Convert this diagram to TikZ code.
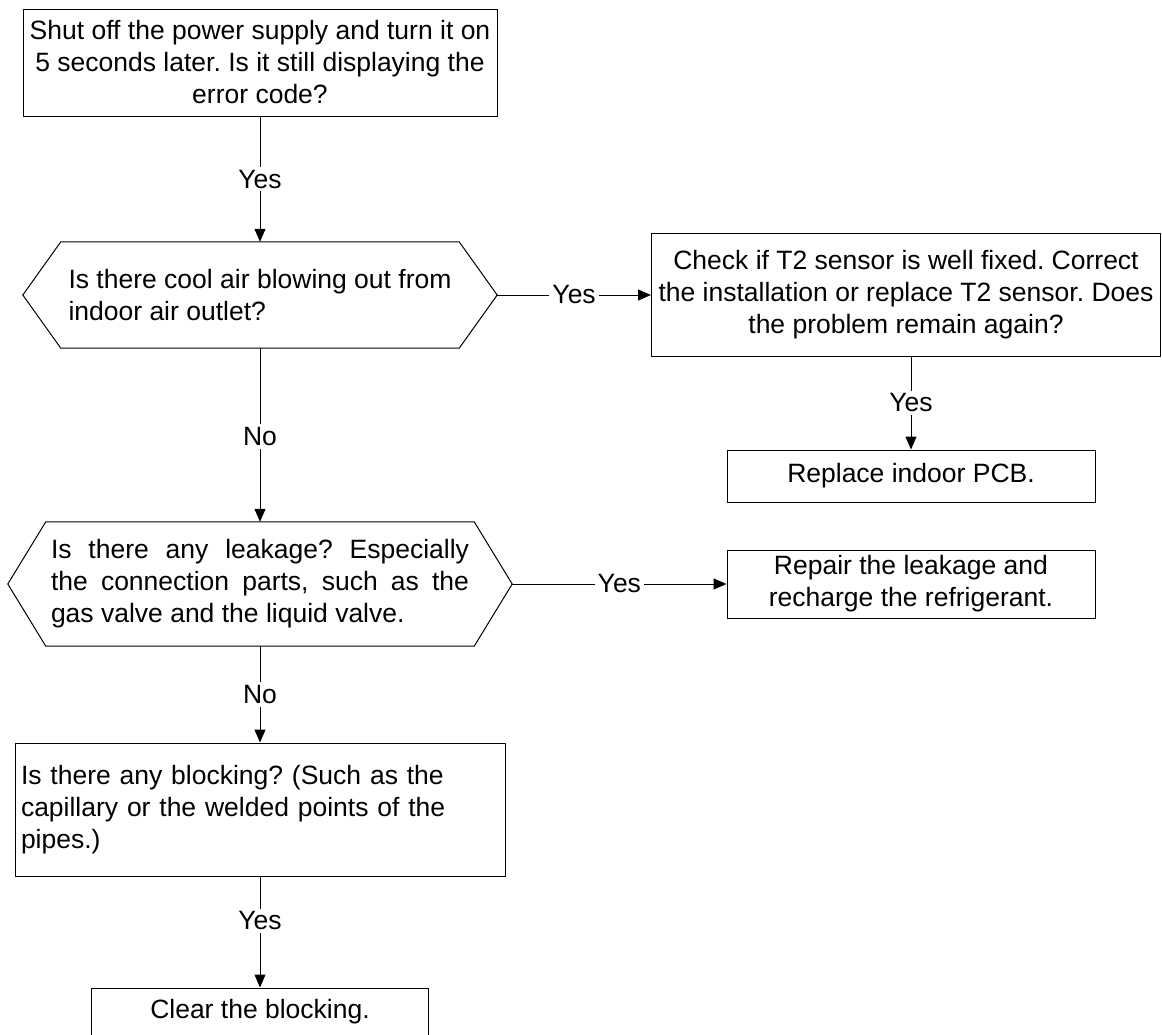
\documentclass[tikz,border=0pt]{standalone}
\usepackage{fontspec}
\setmainfont{Liberation Sans}
\usetikzlibrary{arrows.meta}
\frenchspacing
\begin{document}
\begin{tikzpicture}[x=1pt,y=-1pt,
  every node/.style={font=\fontsize{26.5}{32}\selectfont\frenchspacing},
  box/.style={draw, line width=1pt, inner sep=0pt, align=center},
  hexa/.style={inner sep=0pt, align=left},
  lab/.style={fill=white, inner sep=3pt},
  conn/.style={line width=1pt},
  arr/.style={line width=1pt, -{Triangle[length=13pt,width=11pt]}}]
\useasboundingbox (0,0) rectangle (1162,1034);
\fill[white] (0,0) rectangle (1162,1034);

% boxes
\node[box, minimum width=474pt, minimum height=107pt] (b1) at (260,62.5)
  {Shut off the power supply and turn it on\\5 seconds later. Is it still displaying the\\error code?};
\node[box, minimum width=509pt, minimum height=123pt] (b2) at (906,294.5)
  {Check if T2 sensor is well fixed. Correct\\the installation or replace T2 sensor. Does\\the problem remain again?};
\node[box, minimum width=368pt, minimum height=52pt] (b3) at (911,476) {Replace indoor PCB.};
\node[box, minimum width=368pt, minimum height=68pt] (b4) at (911,584)
  {Repair the leakage and\\recharge the refrigerant.};
\node[box, minimum width=490pt, minimum height=133pt, text width=478pt, align=left] (b5) at (260,809.5)
  {Is there any blocking? (Such as the\\capillary or the welded points of the\\pipes.)};
\node[box, minimum width=337pt, minimum height=48pt] (b6) at (260,1012) {Clear the blocking.};

% hexagons
\node[hexa, minimum width=474pt, minimum height=106pt] (h1) at (260,295)
  {Is there cool air blowing out from\\indoor air outlet?};
\draw[conn] (h1.west) -- ([xshift=38pt]h1.north west) -- ([xshift=-38pt]h1.north east)
  -- (h1.east) -- ([xshift=-38pt]h1.south east) -- ([xshift=38pt]h1.south west) -- cycle;
\node[hexa, minimum width=504pt, minimum height=124pt] (h2) at (260,584)
  {\makebox[418pt][s]{Is there any leakage? Especially}\\
   \makebox[418pt][s]{the connection parts, such as the}\\
   gas valve and the liquid valve.};
\draw[conn] (h2.west) -- ([xshift=38pt]h2.north west) -- ([xshift=-38pt]h2.north east)
  -- (h2.east) -- ([xshift=-38pt]h2.south east) -- ([xshift=38pt]h2.south west) -- cycle;

% connectors
\draw[arr] (b1) -- node[lab]{Yes} (h1);
\draw[arr] (h1.east) -- node[lab]{Yes} (b2.west |- h1.east);
\draw[arr] (b3.north |- b2.south) -- node[lab]{Yes} (b3.north);
\draw[arr] (h1.south) -- node[lab, pos=0.51]{No} (h2.north);
\draw[arr] (h2.east) -- node[lab]{Yes} (b4.west |- h2.east);
\draw[arr] (h2.south) -- node[lab]{No} (b5.north);
\draw[arr] (b5.south) -- node[lab, pos=0.4]{Yes} (b6.north);
\end{tikzpicture}
\end{document}
